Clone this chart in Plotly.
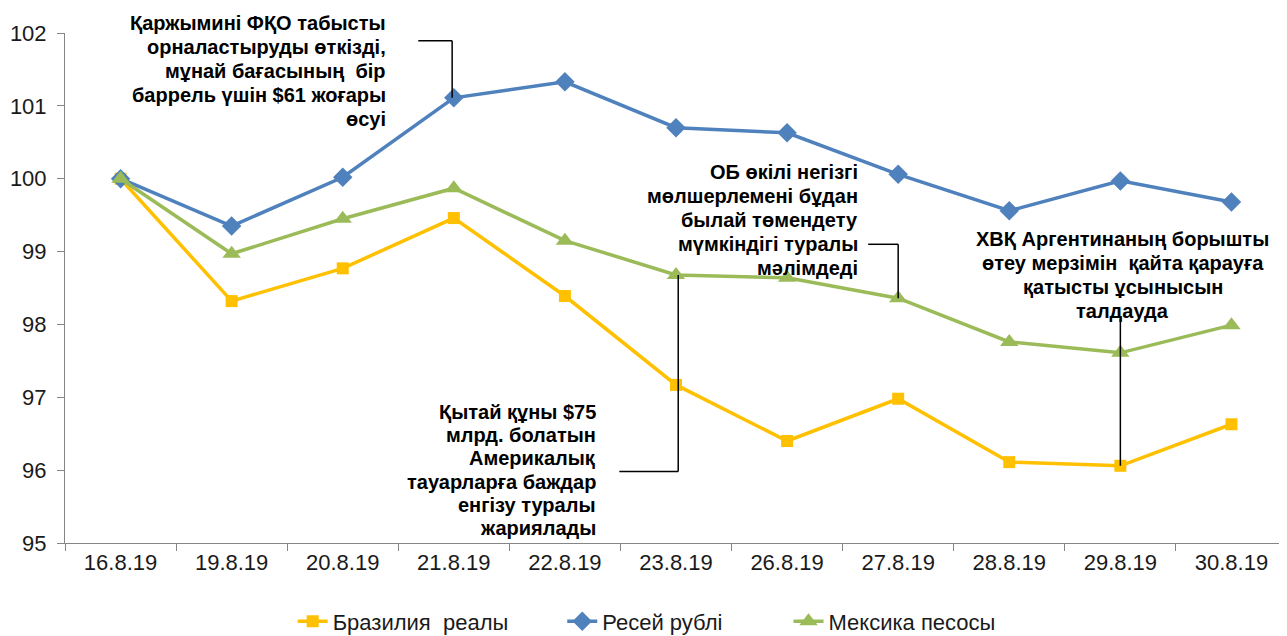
import plotly.graph_objects as go

dates = ["16.8.19", "19.8.19", "20.8.19", "21.8.19", "22.8.19", "23.8.19",
         "26.8.19", "27.8.19", "28.8.19", "29.8.19", "30.8.19"]
brazil = [100.0, 98.32, 98.77, 99.46, 98.39, 97.17, 96.40, 96.98, 96.11, 96.06, 96.63]
russia = [100.0, 99.35, 100.02, 101.11, 101.33, 100.70, 100.63, 100.06, 99.56, 99.97, 99.68]
mexico = [100.0, 98.97, 99.45, 99.87, 99.15, 98.68, 98.64, 98.36, 97.76, 97.61, 97.99]

series_names = ["Бразилия  реалы", "Ресей рублі", "Мексика песосы"]

note1 = ["Қаржымині ФҚО табысты", "орналастыруды өткізді,", "мұнай бағасының  бір",
         "баррель үшін $61 жоғары", "өсуі"]
note2 = ["ОБ өкілі негізгі", "мөлшерлемені бұдан", "былай төмендету",
         "мүмкіндігі туралы", "мәлімдеді"]
note3 = ["ХВҚ Аргентинаның борышты", "өтеу мерзімін  қайта қарауға",
         "қатысты ұсынысын", "талдауда"]
note4 = ["Қытай құны $75", "млрд. болатын", "Америкалық", "тауарларға баждар",
         "енгізу туралы", "жариялады"]

FONT = "Liberation Sans, Arial, sans-serif"
TXT = "#1a1a1a"
NB = "\u00a0"
fig = go.Figure()

fig.add_trace(go.Scatter(x=dates, y=brazil, name=series_names[0] + NB * 8, mode="lines+markers",
                         line=dict(color="#FFC000", width=3.5),
                         marker=dict(symbol="square", size=12, color="#FFC000")))
fig.add_trace(go.Scatter(x=dates, y=russia, name=series_names[1] + NB * 10, mode="lines+markers",
                         line=dict(color="#4F81BD", width=3.5),
                         marker=dict(symbol="diamond", size=15, color="#4F81BD")))
fig.add_trace(go.Scatter(x=dates, y=mexico, name=series_names[2], mode="lines+markers",
                         line=dict(color="#9BBB59", width=3.5),
                         marker=dict(symbol="triangle-up", size=16, color="#9BBB59")))

line_style = dict(color="black", width=1.5)
shapes = [
    # note 1 -> Russia 21.8
    dict(type="line", xref="x", yref="y", x0=2.68, y0=101.895, x1=2.985, y1=101.895, line=line_style),
    dict(type="line", xref="x", yref="y", x0=2.985, y0=101.895, x1=2.985, y1=russia[3], line=line_style),
    # note 2 -> Mexico 27.8
    dict(type="line", xref="x", yref="y", x0=6.73, y0=99.10, x1=7.0, y1=99.10, line=line_style),
    dict(type="line", xref="x", yref="y", x0=7.0, y0=99.10, x1=7.0, y1=mexico[7], line=line_style),
    # note 3 -> Brazil 29.8
    dict(type="line", xref="x", yref="y", x0=9.0, y0=98.08, x1=9.0, y1=brazil[9], line=line_style),
    # note 4 -> Mexico 23.8
    dict(type="line", xref="x", yref="y", x0=4.49, y0=95.98, x1=5.02, y1=95.98, line=line_style),
    dict(type="line", xref="x", yref="y", x0=5.02, y0=95.98, x1=5.02, y1=mexico[5], line=line_style),
]

ann_font = dict(family=FONT, size=20, color="black")
annotations = []


def add_note(lines, x, y, anchor, spacing=24):
    n = len(lines)
    for i, t in enumerate(lines):
        annotations.append(dict(
            x=x, y=y, xref="x", yref="y", text="<b>" + t + "</b>", showarrow=False,
            xanchor=anchor, yanchor="middle", align=anchor, font=ann_font,
            yshift=-(i - (n - 1) / 2) * spacing))


add_note(note1, 2.41, 101.48, "right")
add_note(note2, 6.66, 99.43, "right")
add_note(note3, 9.02, 98.68, "center")
add_note(note4, 4.30, 96.0, "right", spacing=23.3)

fig.update_layout(
    width=1279, height=628,
    margin=dict(l=57, r=0, t=25, b=93),
    paper_bgcolor="white", plot_bgcolor="white",
    font=dict(family=FONT, size=22, color=TXT),
    showlegend=True,
    legend=dict(orientation="h", x=0.476, xanchor="center", yref="container",
                y=0.023, yanchor="middle",
                font=dict(family=FONT, size=22, color=TXT)),
    shapes=shapes,
    annotations=annotations,
)
fig.update_xaxes(type="category", range=[-0.5, 10.5], showgrid=False,
                 showline=True, linecolor="#868686", linewidth=1,
                 ticks="outside", tickson="boundaries", ticklen=7, tickcolor="#868686",
                 tickfont=dict(family=FONT, size=22, color=TXT))
fig.update_yaxes(range=[95, 102], dtick=1, showgrid=False, zeroline=False,
                 showline=True, linecolor="#868686", linewidth=1,
                 ticks="outside", ticklen=7, tickcolor="#868686",
                 ticklabelstandoff=6,
                 tickfont=dict(family=FONT, size=22, color=TXT))

fig.write_html("out.html")
